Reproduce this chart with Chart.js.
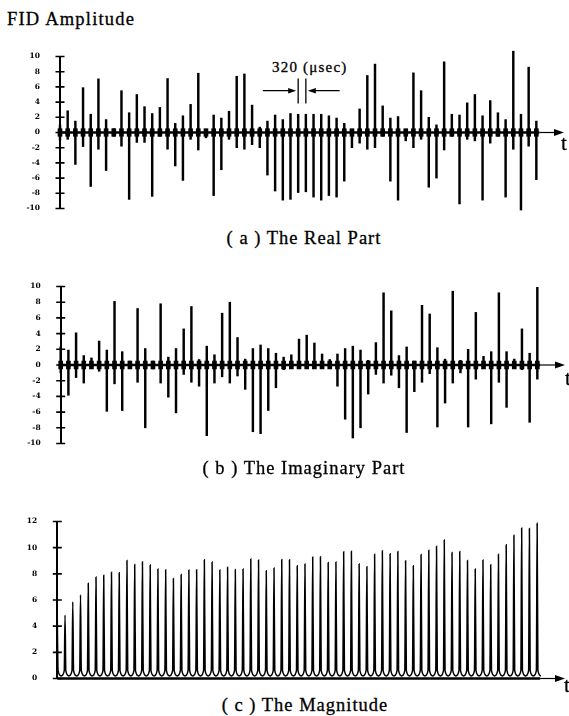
<!DOCTYPE html>
<html>
<head>
<meta charset="utf-8">
<script src="https://cdn.jsdelivr.net/npm/chart.js@4.4.0/dist/chart.umd.min.js"></script>
<style>
  html, body { margin: 0; padding: 0; background: #fff; }
  body { width: 569px; height: 716px; position: relative; overflow: hidden; font-family: "Liberation Serif", serif; color: #000; }
  canvas { position: absolute; left: 0; }
  .txt { position: absolute; white-space: nowrap; line-height: 1; -webkit-text-stroke: 0.3px #000; }
  .cap { font-size: 18.5px; letter-spacing: 1px; transform: translateX(-50%); }
  .t { font-size: 21px; }
</style>
</head>
<body>
<div class="txt" style="left:7px; top:10px; font-size:18.5px; letter-spacing:1.2px;">FID Amplitude</div>
<div class="txt" style="left:272px; top:60px; font-size:15px; letter-spacing:1.2px;">320 (μsec)</div>
<canvas id="realChart" width="569" height="185" style="top:40px"></canvas>
<div class="txt t" style="left:561px; top:133px;">t</div>
<div class="txt cap" style="left:304px; top:229px;">( a ) The Real Part</div>

<canvas id="imagChart" width="569" height="190" style="top:270px"></canvas>
<div class="txt t" style="left:565px; top:368px;">t</div>
<div class="txt cap" style="left:304px; top:459px;">( b ) The Imaginary Part</div>

<canvas id="magChart" width="569" height="190" style="top:505px"></canvas>
<div class="txt t" style="left:564px; top:675px;">t</div>
<div class="txt cap" style="left:305px; top:696px;">( c ) The Magnitude</div>

<script>
// one value per echo pulse, index 0 sits on the y axis
const REAL_HI = [1.0, 2.86, 1.5, 5.9, 2.4, 7.06, 1.7, 0.5, 5.5, 2.6, 5.0, 3.4, 2.5, 3.3, 7.1, 1.2, 2.2, 3.7, 7.8, 0.4,
  2.3, 1.9, 2.8, 7.4, 7.7, 3.6, 0.7, 1.5, 2.3, 1.7, 2.5, 2.4, 2.4, 2.4, 2.4, 2.2, 1.9, 1.2, 0.4, 3.1,
  7.5, 9.0, 3.5, 1.9, 2.1, 0.3, 7.85, 5.5, 2.0, 1.0, 9.3, 2.4, 2.3, 3.9, 5.0, 2.2, 4.2, 2.6, 1.7, 10.7,
  2.4, 8.6, 1.5];
const REAL_LO = [-1.0, -0.9, -4.2, -1.85, -7.1, -2.2, -5.0, -0.5, -1.8, -8.8, -1.3, -1.3, -8.4, -0.5, -2.2, -4.4, -6.3, -0.9, -2.3, -0.7,
  -8.3, -4.9, -0.9, -2.0, -2.2, -1.6, -2.0, -5.6, -7.7, -8.9, -8.8, -7.9, -7.8, -8.5, -8.9, -8.3, -8.5, -6.4, -2.0, -1.4,
  -2.2, -2.0, -0.5, -6.4, -8.9, -1.1, -2.0, -0.9, -7.2, -6.0, -2.3, -0.5, -9.4, -0.9, -1.1, -8.9, -1.4, -0.5, -8.5, -2.2,
  -10.2, -1.8, -6.2];
const IMAG_HI = [2.3, 1.9, 4.1, 1.2, 0.9, 3.05, 1.9, 8.1, 1.7, 0.5, 7.2, 2.1, 0.5, 7.8, 1.0, 2.1, 4.6, 7.45, 0.7, 2.4,
  1.3, 6.6, 8.0, 3.5, 0.75, 2.1, 2.55, 2.1, 1.5, 1.0, 1.3, 3.3, 3.8, 2.8, 1.4, 0.7, 1.4, 2.1, 2.4, 1.9,
  0.6, 2.85, 9.2, 6.9, 1.2, 2.3, 0.5, 7.6, 6.5, 2.2, 0.75, 9.4, 0.6, 2.0, 6.7, 1.1, 1.7, 9.2, 1.7, 0.75,
  4.6, 1.5, 9.9];
const IMAG_LO = [-1.0, -3.85, -1.6, -2.3, -0.4, -0.8, -5.9, -2.4, -5.8, -0.4, -2.2, -8.0, -0.5, -2.3, -4.1, -6.1, -1.2, -2.2, -2.7, -9.0,
  -2.3, -1.5, -2.3, -1.4, -3.1, -8.5, -8.75, -5.8, -2.9, -0.6, -0.4, -0.25, -0.4, -0.25, -0.2, -0.2, -2.7, -6.9, -9.3, -8.0,
  -3.7, -1.2, -2.3, -1.3, -2.9, -8.6, -3.4, -2.2, -1.1, -7.9, -4.85, -2.3, -1.0, -7.9, -1.8, -0.4, -7.5, -2.2, -5.4, -0.4,
  -0.6, -7.3, -1.8];
const MAG_PEAK = [4.4, 4.84, 5.85, 6.4, 7.28, 7.76, 7.89, 8.12, 8.09, 9.02, 8.72, 8.92, 8.67, 8.37, 8.32, 7.64, 7.94, 8.29, 8.32, 9.07,
  8.9, 8.29, 8.5, 8.34, 8.37, 9.13, 9.05, 8.24, 8.44, 9.1, 9.07, 8.62, 8.75, 9.28, 9.3, 8.87, 8.9, 9.68, 9.73, 8.75,
  8.55, 9.5, 9.76, 9.53, 9.7, 9.0, 8.62, 9.48, 9.8, 10.1, 10.59, 9.63, 9.7, 9.02, 8.37, 9.05, 8.7, 9.5, 10.23, 10.94,
  11.5, 11.47, 11.87];
const RING = 0.5;        // ringing blob around the baseline at every pulse
const MAG_FOOT = 0.6;    // magnitude level at the foot of each peak
const MAG_TROUGH = 0.2;  // magnitude level half way between peaks
const PEAK_HALF = 0.1;
const MARK_FROM = 31, MARK_TO = 32;  // pulses marked with "320 (usec)"
const AXIS_END = 65.6;

const LAST = MAG_PEAK.length - 1;

const fidAxes = {
  id: 'fidAxes',
  afterDatasetsDraw(chart) {
    const { ctx, chartArea, scales: { x, y } } = chart;
    const y0 = y.getPixelForValue(0);
    const xl = x.getPixelForValue(LAST);
    ctx.save();
    ctx.strokeStyle = '#000';
    ctx.fillStyle = '#000';
    ctx.lineWidth = 2.4;
    ctx.beginPath(); ctx.moveTo(chartArea.left, y0); ctx.lineTo(xl + 3, y0); ctx.stroke();
    ctx.lineWidth = 1.2;
    ctx.beginPath(); ctx.moveTo(xl + 3, y0); ctx.lineTo(chartArea.right - 6, y0); ctx.stroke();
    ctx.beginPath();
    ctx.moveTo(chartArea.right, y0); ctx.lineTo(chartArea.right - 10, y0 - 3.5); ctx.lineTo(chartArea.right - 10, y0 + 3.5);
    ctx.closePath(); ctx.fill();
    ctx.lineWidth = 1.6;
    ctx.beginPath();
    y.ticks.forEach(t => {
      const py = y.getPixelForValue(t.value);
      ctx.moveTo(chartArea.left - 4.5, py); ctx.lineTo(chartArea.left + 4.5, py);
    });
    ctx.stroke();
    ctx.restore();
  }
};

const spacingMark = {
  id: 'spacingMark',
  afterDatasetsDraw(chart) {
    const { ctx, scales: { x, y } } = chart;
    const xa = x.getPixelForValue(MARK_FROM), xb = x.getPixelForValue(MARK_TO);
    const ya = y.getPixelForValue(7.1), yb = y.getPixelForValue(3.8), ym = y.getPixelForValue(5.5);
    const xs = x.getPixelForValue(MARK_FROM - 4.6), xe = x.getPixelForValue(MARK_TO + 4.4);
    ctx.save();
    ctx.strokeStyle = '#000'; ctx.fillStyle = '#000'; ctx.lineWidth = 1.3;
    ctx.beginPath();
    ctx.moveTo(xa, ya); ctx.lineTo(xa, yb);
    ctx.moveTo(xb, ya); ctx.lineTo(xb, yb);
    ctx.moveTo(xs, ym); ctx.lineTo(xa - 8, ym);
    ctx.moveTo(xe, ym); ctx.lineTo(xb + 8, ym);
    ctx.stroke();
    ctx.beginPath();
    ctx.moveTo(xa - 2, ym); ctx.lineTo(xa - 10, ym - 2.8); ctx.lineTo(xa - 10, ym + 2.8); ctx.closePath();
    ctx.moveTo(xb + 2, ym); ctx.lineTo(xb + 10, ym - 2.8); ctx.lineTo(xb + 10, ym + 2.8); ctx.closePath();
    ctx.fill();
    ctx.restore();
  }
};

function yAxis(min, max, labelPad) {
  return {
    min: min, max: max,
    afterFit: s => { s.width = 40; },
    border: { display: true, color: '#000', width: 2 },
    grid: { display: false },
    ticks: { stepSize: 2, padding: labelPad, color: '#000', autoSkip: false,
      font: { family: 'DejaVu Serif', size: 7.5, weight: 'bold' } }
  };
}

function baseOptions(yScale, pad) {
  return {
    responsive: false, animation: false, devicePixelRatio: 1,
    layout: { padding: pad },
    plugins: { legend: { display: false }, tooltip: { enabled: false } },
    scales: {
      x: { type: 'linear', min: 0, max: AXIS_END, offset: false, display: false, grid: { offset: false } },
      y: yScale
    }
  };
}

function spikeChart(id, hi, lo, pad, extra) {
  return new Chart(document.getElementById(id), {
    type: 'bar',
    data: {
      datasets: [
        { data: hi.map((h, i) => ({ x: i, y: [-RING, RING] })), backgroundColor: '#000', barThickness: 4, grouped: false, clip: false },
        { data: hi.map((h, i) => ({ x: i, y: [lo[i], h] })), backgroundColor: '#000', barThickness: 1.8, grouped: false, clip: false }
      ]
    },
    options: baseOptions(yAxis(-10, 10, 12), pad),
    plugins: [fidAxes].concat(extra)
  });
}

spikeChart('realChart', REAL_HI, REAL_LO, { left: 20, right: 5, top: 13.3, bottom: 14 }, [spacingMark]);
spikeChart('imagChart', IMAG_HI, IMAG_LO, { left: 20.7, right: 4, top: 15.7, bottom: 15 }, []);

const magPoints = [];
MAG_PEAK.forEach((h, i) => {
  if (i > 0) magPoints.push({ x: i - PEAK_HALF, y: MAG_FOOT });
  magPoints.push({ x: i, y: h });
  magPoints.push({ x: i + PEAK_HALF, y: MAG_FOOT });
  magPoints.push({ x: i + 0.5, y: MAG_TROUGH });
});

new Chart(document.getElementById('magChart'), {
  type: 'line',
  data: {
    datasets: [{ data: magPoints, borderColor: '#000', borderWidth: 1.5, pointRadius: 0,
      cubicInterpolationMode: 'monotone', clip: false }]
  },
  options: baseOptions(yAxis(0, 12, 12), { left: 17.3, right: 4, top: 15, bottom: 16 }),
  plugins: [fidAxes]
});
</script>
</body>
</html>
